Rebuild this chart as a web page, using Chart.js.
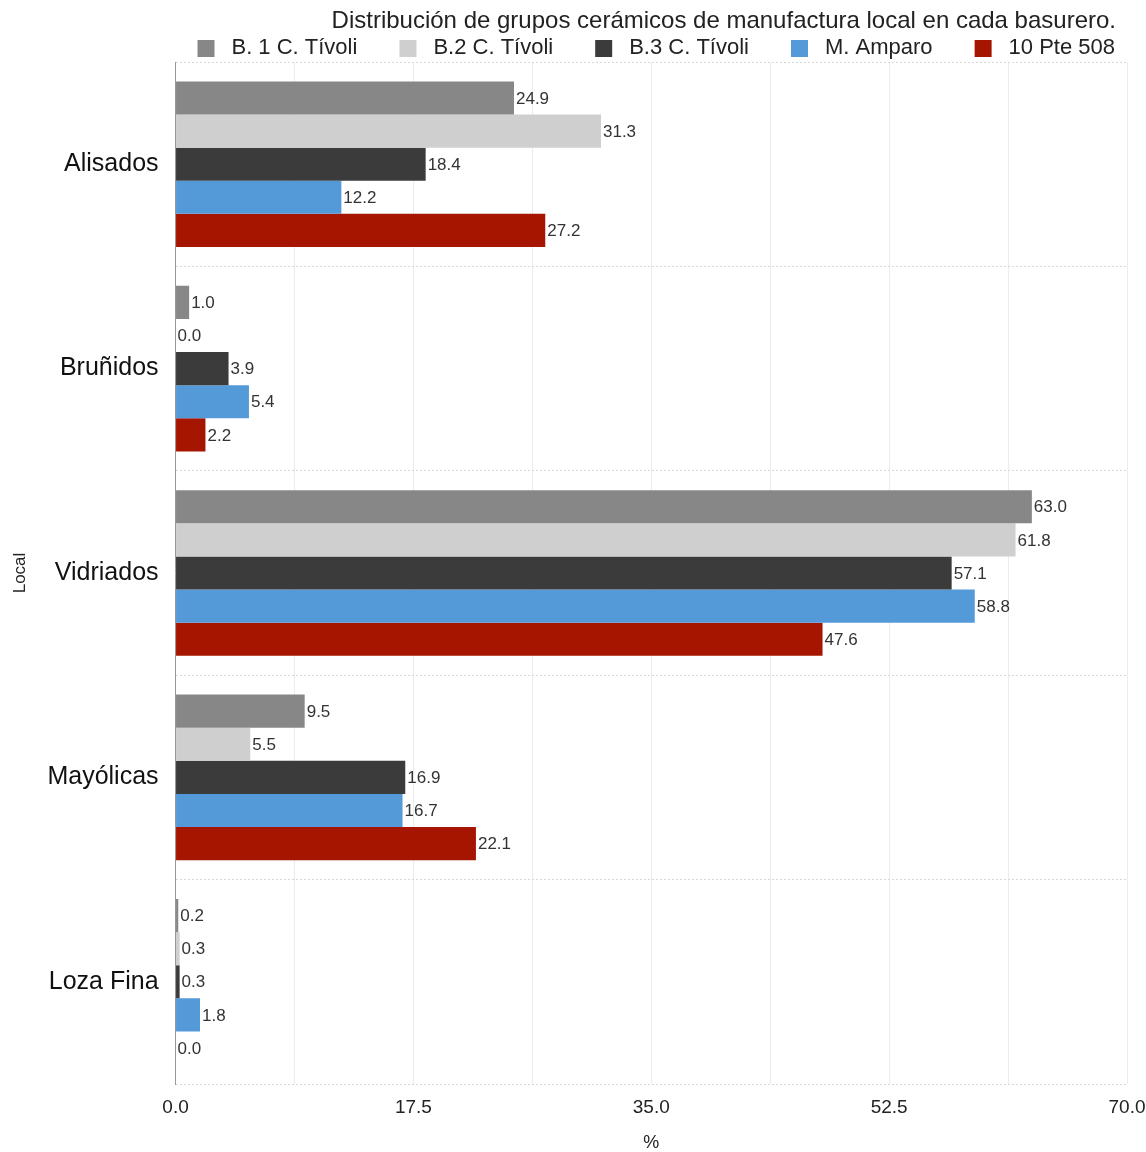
<!DOCTYPE html>
<html>
<head>
<meta charset="utf-8">
<script src="https://cdn.jsdelivr.net/npm/chart.js@4"></script>
<style>
  body { margin: 0; background: #fff; }
  #wrap { width: 1146px; height: 1152px; }
</style>
</head>
<body>
<div id="wrap"><canvas id="grupos" width="1146" height="1152"></canvas></div>
<script>
const categorias = ["Alisados", "Bruñidos", "Vidriados", "Mayólicas", "Loza Fina"];
const b1Tivoli = [24.9, 1.0, 63.0, 9.5, 0.2];
const b2Tivoli = [31.3, 0.0, 61.8, 5.5, 0.3];
const b3Tivoli = [18.4, 3.9, 57.1, 16.9, 0.3];
const mAmparo = [12.2, 5.4, 58.8, 16.7, 1.8];
const pte508 = [27.2, 2.2, 47.6, 22.1, 0.0];
const ticksX = [0, 17.5, 35, 52.5, 70];

const FONT = "'Liberation Sans', Arial, sans-serif";

// cuadrito de color de la leyenda; el hueco a la izquierda separa cada item
function swatch(color) {
  const c = document.createElement("canvas");
  c.width = 65;
  c.height = 17;
  const g = c.getContext("2d");
  g.fillStyle = color;
  g.fillRect(42, 0, 17, 17);
  return c;
}

// etiquetas de valor al final de cada barra
const valueLabels = {
  id: "valueLabels",
  afterDatasetsDraw(chart) {
    const ctx = chart.ctx;
    ctx.save();
    ctx.font = "17px " + FONT;
    ctx.fillStyle = "#333";
    ctx.textBaseline = "middle";
    ctx.textAlign = "left";
    chart.data.datasets.forEach((ds, i) => {
      chart.getDatasetMeta(i).data.forEach((bar, j) => {
        ctx.fillText(ds.data[j].toFixed(1), bar.x + 2, bar.y + 1);
      });
    });
    ctx.restore();
  }
};

// leyenda mas baja (sin el margen fijo de abajo) y titulo/leyenda corridos a la izquierda
const headerShift = {
  id: "headerShift",
  beforeLayout(chart) {
    const lg = chart.legend;
    if (lg && !lg._ajustada) {
      const fitOrig = lg.fit;
      lg.fit = function () {
        fitOrig.call(this);
        this.height = Math.max(0, this.height - 7);
      };
      lg._ajustada = true;
    }
  },
  afterLayout(chart) {
    if (chart.titleBlock) chart.titleBlock.right -= 11;
    if (chart.legend) chart.legend.right -= 12;
  }
};

new Chart(document.getElementById("grupos"), {
  type: "bar",
  data: {
    labels: categorias,
    datasets: [
      { label: "B. 1 C. Tívoli", data: b1Tivoli, backgroundColor: "#878787" },
      { label: "B.2 C. Tívoli", data: b2Tivoli, backgroundColor: "#cfcfcf" },
      { label: "B.3 C. Tívoli", data: b3Tivoli, backgroundColor: "#3b3b3b" },
      { label: "M. Amparo", data: mAmparo, backgroundColor: "#5499d8" },
      { label: "10 Pte 508", data: pte508, backgroundColor: "#a51500" }
    ]
  },
  options: {
    indexAxis: "y",
    responsive: false,
    animation: false,
    layout: { padding: { left: 10, right: 19, top: 6, bottom: 0 } },
    datasets: {
      bar: { categoryPercentage: 0.81, barPercentage: 1.0 }
    },
    plugins: {
      title: {
        display: true,
        text: "Distribución de grupos cerámicos de manufactura local en cada basurero.",
        align: "end",
        color: "#222",
        font: { family: FONT, size: 24, weight: "normal", lineHeight: 1.0 },
        padding: { top: 3, bottom: 4 }
      },
      legend: {
        position: "top",
        align: "end",
        labels: {
          color: "#222",
          font: { family: FONT, size: 22, lineHeight: 1.0 },
          usePointStyle: true,
          pointStyleWidth: 65,
          boxHeight: 17,
          padding: 0,
          generateLabels(chart) {
            const items = Chart.defaults.plugins.legend.labels.generateLabels(chart);
            items.forEach(it => { it.pointStyle = swatch(it.fillStyle); });
            return items;
          }
        }
      },
      tooltip: { enabled: false }
    },
    scales: {
      x: {
        min: 0,
        max: 70,
        afterFit(scale) { scale.paddingRight = 0; },
        ticks: {
          stepSize: 8.75,
          color: "#222",
          font: { family: FONT, size: 19, lineHeight: 1.0 },
          padding: 14,
          maxRotation: 0,
          autoSkip: false,
          callback: v => ticksX.includes(v) ? v.toFixed(1) : ""
        },
        grid: { color: "#ececec", drawTicks: false },
        border: { display: false },
        title: {
          display: true,
          text: "%",
          color: "#222",
          font: { family: FONT, size: 18, lineHeight: 1.0 },
          padding: { top: 3, bottom: 0 }
        }
      },
      y: {
        ticks: {
          color: "#111",
          font: { family: FONT, size: 25 },
          padding: 17
        },
        grid: { offset: true, color: "#d8d8d8", drawTicks: false, lineWidth: 1 },
        border: { color: "#999", dash: [2, 2] },
        title: {
          display: true,
          text: "Local",
          color: "#222",
          font: { family: FONT, size: 17 },
          padding: { top: 0, bottom: 0 }
        }
      }
    }
  },
  plugins: [valueLabels, headerShift]
});
</script>
</body>
</html>
